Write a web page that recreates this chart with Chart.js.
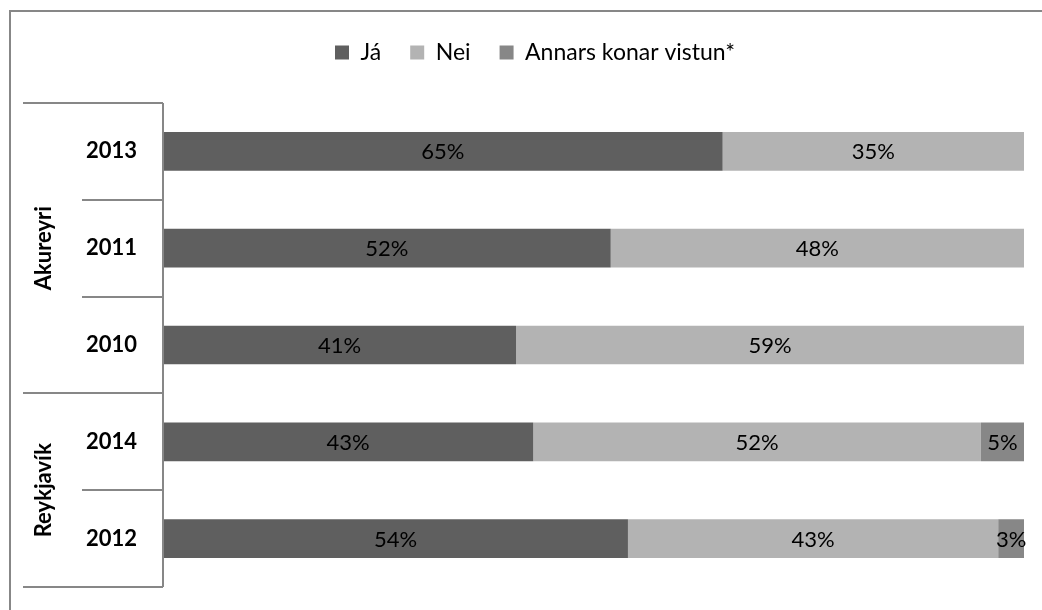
<!DOCTYPE html>
<html>
<head>
<meta charset="utf-8">
<script src="https://cdn.jsdelivr.net/npm/chart.js@4"></script>
<style>
  html, body { margin: 0; padding: 0; background: #fff; }
  #wrap { width: 1042px; height: 610px; position: relative; }
</style>
</head>
<body>
<div id="wrap"><canvas id="chart"></canvas></div>
<script>
// Dados
const years = ["2013", "2011", "2010", "2014", "2012"];
const groupNames = ["Akureyri", "Reykjavík"];
const groupSizes = [3, 2];
const ja = [65, 52, 41, 43, 54];
const nei = [35, 48, 59, 52, 43];
const annars = [0, 0, 0, 5, 3];

const FONT = "Lato, 'Open Sans', sans-serif";
const LINE = "#878787";

// Espaço extra abaixo da legenda
const legendGap = {
  id: "legendGap",
  beforeInit(chart) {
    const fit = chart.legend.fit;
    chart.legend.fit = function () {
      fit.call(this);
      this.height += 29;
    };
  },
};

// Moldura, linhas do eixo e nomes dos grupos
const frame = {
  id: "frame",
  afterDraw(chart) {
    const { ctx, chartArea } = chart;
    const y = chart.scales.y;
    const left = chartArea.left;
    const half = (y.getPixelForValue(1) - y.getPixelForValue(0)) / 2;
    ctx.save();
    ctx.strokeStyle = LINE;
    ctx.lineWidth = 2;
    ctx.beginPath();
    ctx.moveTo(10, 610);
    ctx.lineTo(10, 11);
    ctx.lineTo(1042, 11);
    ctx.stroke();

    // linhas entre categorias
    const groupEdges = [0];
    groupSizes.forEach((n) => groupEdges.push(groupEdges[groupEdges.length - 1] + n));
    for (let i = 0; i <= years.length; i++) {
      const py = Math.round(y.getPixelForValue(i) - half);
      const x0 = groupEdges.includes(i) ? 23 : 82;
      ctx.beginPath();
      ctx.moveTo(x0, py);
      ctx.lineTo(left, py);
      ctx.stroke();
    }
    ctx.beginPath();
    ctx.moveTo(left, chartArea.top);
    ctx.lineTo(left, chartArea.bottom);
    ctx.stroke();

    // nomes dos grupos, rodados
    ctx.fillStyle = "#000";
    ctx.font = "bold 22px " + FONT;
    ctx.textAlign = "center";
    ctx.textBaseline = "middle";
    groupNames.forEach((name, g) => {
      const a = y.getPixelForValue(groupEdges[g]) - half;
      const b = y.getPixelForValue(groupEdges[g + 1]) - half;
      ctx.save();
      ctx.translate(44, (a + b) / 2);
      ctx.rotate(-Math.PI / 2);
      ctx.fillText(name, 0, 0);
      ctx.restore();
    });
    ctx.restore();
  },
};

// Rótulos de percentagem dentro das barras
const barLabels = {
  id: "barLabels",
  afterDatasetsDraw(chart) {
    const { ctx } = chart;
    ctx.save();
    ctx.fillStyle = "#000";
    ctx.font = "22px " + FONT;
    ctx.textAlign = "center";
    ctx.textBaseline = "middle";
    chart.data.datasets.forEach((ds, i) => {
      chart.getDatasetMeta(i).data.forEach((bar, j) => {
        const v = ds.data[j];
        if (!v) return;
        ctx.fillText(v + "%", (bar.x + bar.base) / 2, bar.y + 1);
      });
    });
    ctx.restore();
  },
};

const ctx = document.getElementById("chart").getContext("2d");

new Chart(ctx, {
  type: "bar",
  data: {
    labels: years,
    datasets: [
      { label: "Já", data: ja, backgroundColor: "#5f5f5f" },
      { label: "Nei", data: nei, backgroundColor: "#b3b3b3" },
      { label: "Annars konar vistun*", data: annars, backgroundColor: "#878787" },
    ],
  },
  options: {
    indexAxis: "y",
    responsive: true,
    maintainAspectRatio: false,
    animation: false,
    categoryPercentage: 1,
    barPercentage: 0.4,
    layout: { padding: { top: 12, left: 46, right: 18, bottom: 23 } },
    plugins: {
      legend: {
        position: "top",
        labels: {
          boxWidth: 14,
          boxHeight: 14,
          padding: 29,
          color: "#000",
          font: { family: FONT, size: 23 },
        },
      },
      tooltip: { enabled: false },
    },
    scales: {
      x: { stacked: true, min: 0, max: 100, display: false },
      y: {
        stacked: true,
        grid: { display: false, drawTicks: false },
        border: { display: false },
        afterFit: (s) => {
          s.width = 117;
          s.paddingTop = 0;
          s.paddingBottom = 0;
        },
        ticks: {
          color: "#000",
          padding: 26,
          font: { family: FONT, size: 22, weight: "bold" },
        },
      },
    },
  },
  plugins: [legendGap, frame, barLabels],
});
</script>
</body>
</html>
